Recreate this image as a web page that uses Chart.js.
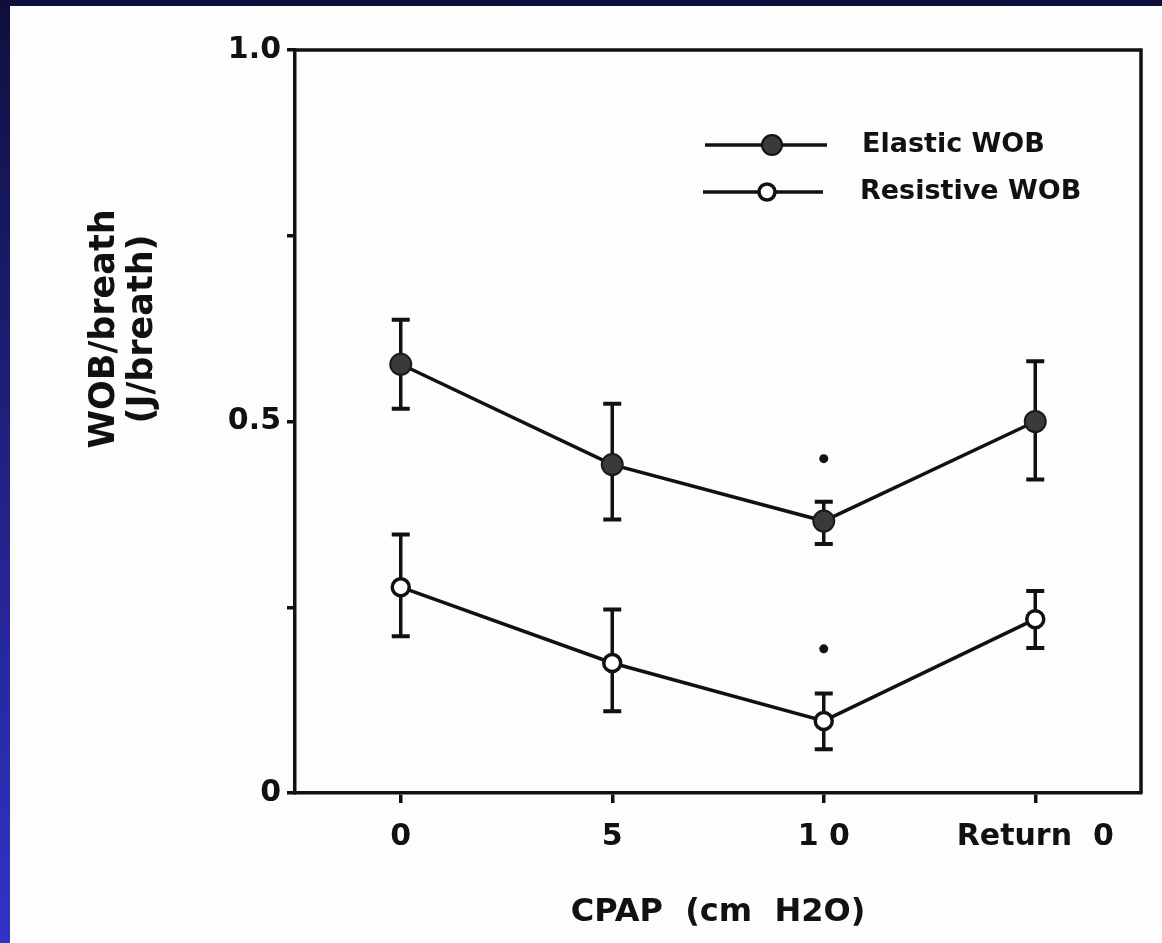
<!DOCTYPE html>
<html>
<head>
<meta charset="utf-8">
<title>WOB per breath vs CPAP</title>
<script src="https://cdn.jsdelivr.net/npm/chart.js@4.4.1/dist/chart.umd.min.js"></script>
<style>
  html, body { margin: 0; padding: 0; }
  body {
    width: 1162px; height: 943px; overflow: hidden; position: relative;
    background: linear-gradient(to bottom, #0f0f3e 0%, #1c1c70 35%, #3232c8 100%);
  }
  #wrap { position: absolute; left: 10px; top: 6px; width: 1152px; height: 937px; background: #fdfdfd; }
</style>
</head>
<body>
<div id="wrap"><canvas id="myChart" width="1152" height="937"></canvas></div>
<script>
// data
const cpapLabels = ["0", "5", "1 0", "Return  0"];
const elasticMean = [0.577, 0.442, 0.366, 0.500];
const elasticHi   = [0.637, 0.524, 0.392, 0.581];
const elasticLo   = [0.517, 0.368, 0.335, 0.422];
const resistMean  = [0.277, 0.175, 0.097, 0.234];
const resistHi    = [0.348, 0.247, 0.134, 0.272];
const resistLo    = [0.211, 0.110, 0.059, 0.195];
// significance dots above the 10 cm H2O points
const sigX = [2, 2];
const sigY = [0.450, 0.194];
const yTickValues = [0, 0.25, 0.5, 0.75, 1.0];
const yTickLabels = ["0", "", "0.5", "", "1.0"];

const INK = "#111";
const FONT = "DejaVu Sans";

function toPoints(vals) {
  return vals.map((v, i) => ({ x: i, y: v }));
}

// vertical error bars with caps, drawn under the points
const errorBars = {
  id: "errorBars",
  beforeDatasetsDraw(chart) {
    const { ctx, scales: { x, y } } = chart;
    ctx.save();
    ctx.strokeStyle = INK;
    [[elasticLo, elasticHi], [resistLo, resistHi]].forEach(([lo, hi]) => {
      lo.forEach((v, i) => {
        const px = x.getPixelForValue(i);
        const top = y.getPixelForValue(hi[i]);
        const bot = y.getPixelForValue(v);
        ctx.lineWidth = 3.5;
        ctx.beginPath();
        ctx.moveTo(px, top);
        ctx.lineTo(px, bot);
        ctx.stroke();
        ctx.lineWidth = 4;
        ctx.beginPath();
        ctx.moveTo(px - 9, top); ctx.lineTo(px + 9, top);
        ctx.moveTo(px - 9, bot); ctx.lineTo(px + 9, bot);
        ctx.stroke();
      });
    });
    ctx.restore();
  }
};

// top and right edges of the box
const frame = {
  id: "frame",
  afterDraw(chart) {
    const { ctx, chartArea: { top, bottom, left, right } } = chart;
    ctx.save();
    ctx.strokeStyle = INK;
    ctx.lineWidth = 3.5;
    ctx.beginPath();
    ctx.moveTo(left, top);
    ctx.lineTo(right, top);
    ctx.lineTo(right, bottom);
    ctx.stroke();
    ctx.restore();
  }
};

// legend inside the plot, top right
const insideLegend = {
  id: "insideLegend",
  afterDraw(chart) {
    const { ctx } = chart;
    const rows = [
      { text: "Elastic WOB", y: 139, x0: 695, x1: 817, mx: 762, r: 10, fill: "#3a3a3a", bw: 2, tx: 852 },
      { text: "Resistive WOB", y: 186, x0: 693, x1: 813, mx: 757, r: 8, fill: "#fff", bw: 3.5, tx: 850 }
    ];
    ctx.save();
    rows.forEach(row => {
      ctx.strokeStyle = INK;
      ctx.lineWidth = 3.5;
      ctx.beginPath();
      ctx.moveTo(row.x0, row.y);
      ctx.lineTo(row.x1, row.y);
      ctx.stroke();
      ctx.beginPath();
      ctx.arc(row.mx, row.y, row.r, 0, Math.PI * 2);
      ctx.fillStyle = row.fill;
      ctx.fill();
      ctx.lineWidth = row.bw;
      ctx.stroke();
      ctx.fillStyle = INK;
      ctx.font = "bold 27px '" + FONT + "'";
      ctx.textAlign = "left";
      ctx.textBaseline = "middle";
      ctx.fillText(row.text, row.tx, row.y);
    });
    ctx.restore();
  }
};

// two-line rotated y title, sits above the middle of the axis
const yTitle = {
  id: "yTitle",
  afterDraw(chart) {
    const { ctx } = chart;
    ctx.save();
    ctx.fillStyle = INK;
    ctx.font = "bold 35px '" + FONT + "'";
    ctx.textAlign = "center";
    ctx.textBaseline = "alphabetic";
    ctx.translate(104, 323);
    ctx.rotate(-Math.PI / 2);
    ctx.fillText("WOB/breath", 0, 0);
    ctx.fillText("(J/breath)", 0, 38);
    ctx.restore();
  }
};

const config = {
  type: "scatter",
  data: {
    datasets: [
      {
        label: "Elastic WOB",
        data: toPoints(elasticMean),
        showLine: true,
        borderColor: INK,
        borderWidth: 3.5,
        pointRadius: 10.5,
        pointBackgroundColor: "#3a3a3a",
        pointBorderColor: "#1a1a1a",
        pointBorderWidth: 2
      },
      {
        label: "Resistive WOB",
        data: toPoints(resistMean),
        showLine: true,
        borderColor: INK,
        borderWidth: 3.5,
        pointRadius: 8.5,
        pointBackgroundColor: "#fff",
        pointBorderColor: INK,
        pointBorderWidth: 3.5
      },
      {
        label: "significant",
        data: sigX.map((v, i) => ({ x: v, y: sigY[i] })),
        showLine: false,
        pointRadius: 4.5,
        pointBackgroundColor: INK,
        pointBorderWidth: 0
      }
    ]
  },
  options: {
    responsive: false,
    animation: false,
    layout: { padding: { left: 165, right: 21, top: 44, bottom: 0 } },
    plugins: {
      legend: { display: false },
      tooltip: { enabled: false }
    },
    scales: {
      x: {
        type: "linear",
        min: -0.5,
        max: 3.5,
        afterBuildTicks: s => { s.ticks = cpapLabels.map((_, i) => ({ value: i })); },
        afterFit: s => { s.height = 150; },
        ticks: {
          callback: v => cpapLabels[v],
          font: { family: FONT, size: 30, weight: "bold" },
          color: INK,
          padding: 16,
          maxRotation: 0,
          autoSkip: false
        },
        grid: { drawOnChartArea: false, drawTicks: true, tickLength: 10, color: INK, lineWidth: 3.5 },
        border: { display: true, color: INK, width: 3.5 },
        title: {
          display: true,
          text: "CPAP  (cm  H2O)",
          font: { family: FONT, size: 32, weight: "bold" },
          color: INK,
          padding: { top: 0, bottom: 11 }
        }
      },
      y: {
        min: 0,
        max: 1,
        afterBuildTicks: s => { s.ticks = yTickValues.map(v => ({ value: v })); },
        afterFit: s => { s.width = 120; },
        ticks: {
          callback: (v, i) => yTickLabels[i],
          font: { family: FONT, size: 30, weight: "bold" },
          color: INK,
          padding: 6
        },
        grid: { drawOnChartArea: false, drawTicks: true, tickLength: 8, color: INK, lineWidth: 3.5 },
        border: { display: true, color: INK, width: 3.5 }
      }
    }
  },
  plugins: [errorBars, frame, insideLegend, yTitle]
};

const myChart = new Chart(document.getElementById("myChart"), config);
</script>
</body>
</html>
